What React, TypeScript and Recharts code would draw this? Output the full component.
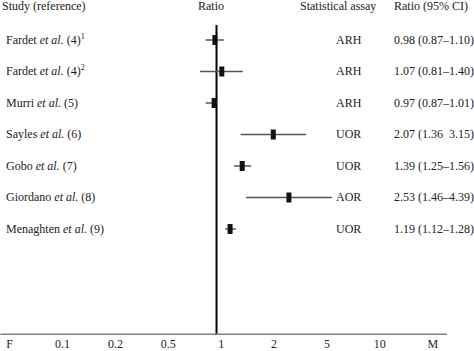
import React from "react";
import { ScatterChart, Scatter, XAxis, YAxis, ErrorBar, ReferenceLine } from "recharts";

const authors = ["Fardet", "Fardet", "Murri", "Sayles", "Gobo", "Giordano", "Menaghten"];
const refs = ["4", "4", "5", "6", "7", "8", "9"];
const sups = ["1", "2", "", "", "", "", ""];
const assays = ["ARH", "ARH", "ARH", "UOR", "UOR", "AOR", "UOR"];
const ratios = [0.98, 1.07, 0.97, 2.07, 1.39, 2.53, 1.19];
const lows = [0.87, 0.81, 0.87, 1.36, 1.25, 1.46, 1.12];
const highs = [1.1, 1.4, 1.01, 3.15, 1.56, 4.39, 1.28];
const separators = ["–", "–", "–", "  ", "–", "–", "–"];
const tickLabels = ["F", "0.1", "0.2", "0.5", "1", "2", "5", "10", "M"];
const tickIndex = [0, 1, 2, 3, 4, 5, 6, 7, 8];
const rowIndex = [0, 1, 2, 3, 4, 5, 6];
const headers = ["Study (reference)", "Ratio", "Statistical assay", "Ratio (95% CI)"];
const yDomain = [-0.476, 9.333];

const rows = ratios.map((r, i) => ({
  row: i,
  ratio: r,
  err: [r - lows[i], highs[i] - r],
}));
const tickAnchors = tickIndex.map((i) => ({ pos: i, row: 0 }));

const W = 474;
const H = 351;
const MARGIN = { top: 25, right: 27, bottom: 0, left: 0 };
const AXIS_H = 17;
const AXIS_Y = H - MARGIN.bottom - AXIS_H;

const FONT = "Liberation Serif, DejaVu Serif, serif";
const TEXT = "#222";
const textStyle = { fontFamily: FONT, fontSize: 12, fill: TEXT } as const;

const renderRowTick = (props: any) => {
  const { y, payload } = props;
  const i = Number(payload.value);
  if (!(i >= 0 && i < authors.length)) return <g />;
  const txt = `${ratios[i].toFixed(2)} (${lows[i].toFixed(2)}${separators[i]}${highs[i].toFixed(2)})`;
  return (
    <g>
      <text x={6} y={y} dy="0.33em" style={textStyle}>
        {authors[i] + " "}
        <tspan style={{ fontStyle: "italic" }}>et al.</tspan>
        {` (${refs[i]})`}
        {sups[i] ? (
          <tspan dy={-5} style={{ fontSize: 8 }}>
            {sups[i]}
          </tspan>
        ) : null}
      </text>
      <text x={336} y={y} dy="0.33em" style={textStyle}>
        {assays[i]}
      </text>
      <text x={394} y={y} dy="0.33em" style={{ ...textStyle, whiteSpace: "pre" }}>
        {txt}
      </text>
    </g>
  );
};

const renderXTick = (props: any) => {
  const { x, y, payload } = props;
  const label = tickLabels[Number(payload.value)] ?? "";
  return (
    <text x={x} y={y} dy="0.71em" textAnchor="middle" style={textStyle}>
      {label}
    </text>
  );
};

const MarkerShape = (props: any) => {
  const { cx, cy } = props;
  return <rect x={cx - 2.5} y={cy - 5} width={5} height={10} fill="#111" />;
};

const EmptyShape = () => <g />;

export default function App() {
  return (
    <div style={{ position: "absolute", left: 0, top: 0, width: W, height: H, background: "#fff" }}>
      <ScatterChart width={W} height={H} margin={MARGIN}>
        <XAxis
          xAxisId="val"
          type="number"
          dataKey="ratio"
          scale="log"
          domain={[0.0631, 19.2]}
          allowDataOverflow
          hide
        />
        <XAxis
          xAxisId="lab"
          type="number"
          dataKey="pos"
          domain={[-0.164, 8.27]}
          allowDataOverflow
          ticks={tickIndex}
          interval={0}
          height={AXIS_H}
          stroke="#808080"
          axisLine={true}
          tickLine={false}
          tickSize={0}
          tickMargin={5}
          tick={renderXTick}
        />
        <YAxis
          type="number"
          dataKey="row"
          domain={yDomain}
          reversed
          allowDataOverflow
          ticks={rowIndex}
          interval={0}
          width={1}
          axisLine={false}
          tickLine={false}
          tick={renderRowTick}
        />
        <ReferenceLine xAxisId="val" x={1} stroke="#000" strokeWidth={2} />
        <Scatter xAxisId="lab" data={tickAnchors} shape={<EmptyShape />} isAnimationActive={false} />
        <Scatter xAxisId="val" data={rows} shape={<MarkerShape />} isAnimationActive={false}>
          <ErrorBar dataKey="err" direction="x" width={0} stroke="#555" strokeWidth={1.5} isAnimationActive={false} />
        </Scatter>
      </ScatterChart>
      <svg
        width={W}
        height={H}
        style={{ position: "absolute", left: 0, top: 0, pointerEvents: "none" }}
      >
        <line
          x1={MARGIN.left}
          x2={W - MARGIN.right}
          y1={AXIS_Y + 0.5}
          y2={AXIS_Y + 0.5}
          stroke="#808080"
          strokeWidth={1}
        />
        <text x={2} y={10} style={textStyle}>{headers[0]}</text>
        <text x={211} y={10} textAnchor="middle" style={textStyle}>{headers[1]}</text>
        <text x={300} y={10} style={textStyle}>{headers[2]}</text>
        <text x={394} y={10} style={textStyle}>{headers[3]}</text>
      </svg>
    </div>
  );
}
